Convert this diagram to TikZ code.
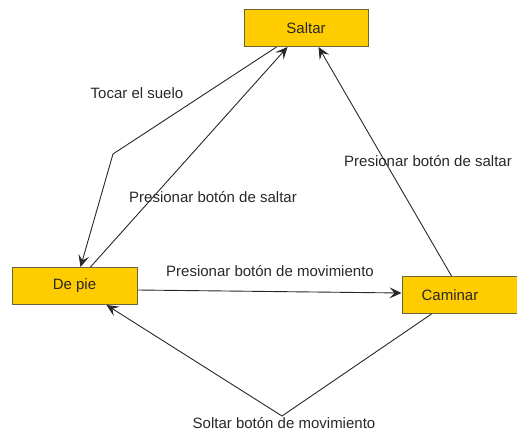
\documentclass[tikz,border=0pt]{standalone}
\usepackage{fontspec}
\setmainfont{Liberation Sans}
\usetikzlibrary{arrows.meta,calc}
\definecolor{boxfill}{RGB}{255,204,0}
\definecolor{boxline}{RGB}{110,100,60}
\definecolor{ink}{RGB}{40,40,40}
\begin{document}
\begin{tikzpicture}[x=1pt,y=-1pt,
  state/.style={draw=boxline,fill=boxfill,line width=1pt,minimum height=37pt,inner sep=0pt,
    font=\fontsize{15}{18}\selectfont,text=ink},
  lbl/.style={font=\fontsize{15}{18}\selectfont,text=ink,inner sep=1pt},
  conn/.style={draw=ink,line width=0.9pt,-{Stealth[length=12pt,width=11pt,inset=5pt]}}]
\useasboundingbox (0,0) rectangle (517,433);
\node[state,minimum width=124pt] (saltar) at (306,28) {Saltar};
\node[state,minimum width=125pt] (depie) at (74.5,286) {De pie};
\node[state,minimum width=125pt] (caminar) at (464.5,295) {Caminar\kern29pt\relax};
\coordinate (bend1) at (113,154);
\coordinate (bend2) at (282,416);
% Tocar el suelo
\draw[conn] ($(saltar.south west)+(33,0)$) -- (bend1) -- ($(depie.north west)+(69,0)$);
% De pie -> Saltar
\draw[conn] ($(depie.north west)+(79,0)$) -- ($(saltar.south west)+(44,0)$);
% De pie -> Caminar
\draw[conn] ($(depie.east)+(0,4)$) -- ($(caminar.west)+(0,-2)$);
% Caminar -> Saltar
\draw[conn] ($(caminar.north west)+(50,0)$) -- ($(saltar.south west)+(75,0)$);
% Caminar -> De pie
\draw[conn] ($(caminar.south west)+(30,0)$) -- (bend2) -- ($(depie.south east)+(-31,0)$);
\node[lbl] (l1) at (137,93) {Tocar el suelo};
\node[lbl] (l2) at (213,197) {Presionar botón de saltar};
\node[lbl] (l3) at (270,271) {Presionar botón de movimiento};
\node[lbl] (l4) at (428,161) {Presionar botón de saltar};
\node[lbl] (l5) at (284,423) {Soltar botón de movimiento};
\end{tikzpicture}
\end{document}
